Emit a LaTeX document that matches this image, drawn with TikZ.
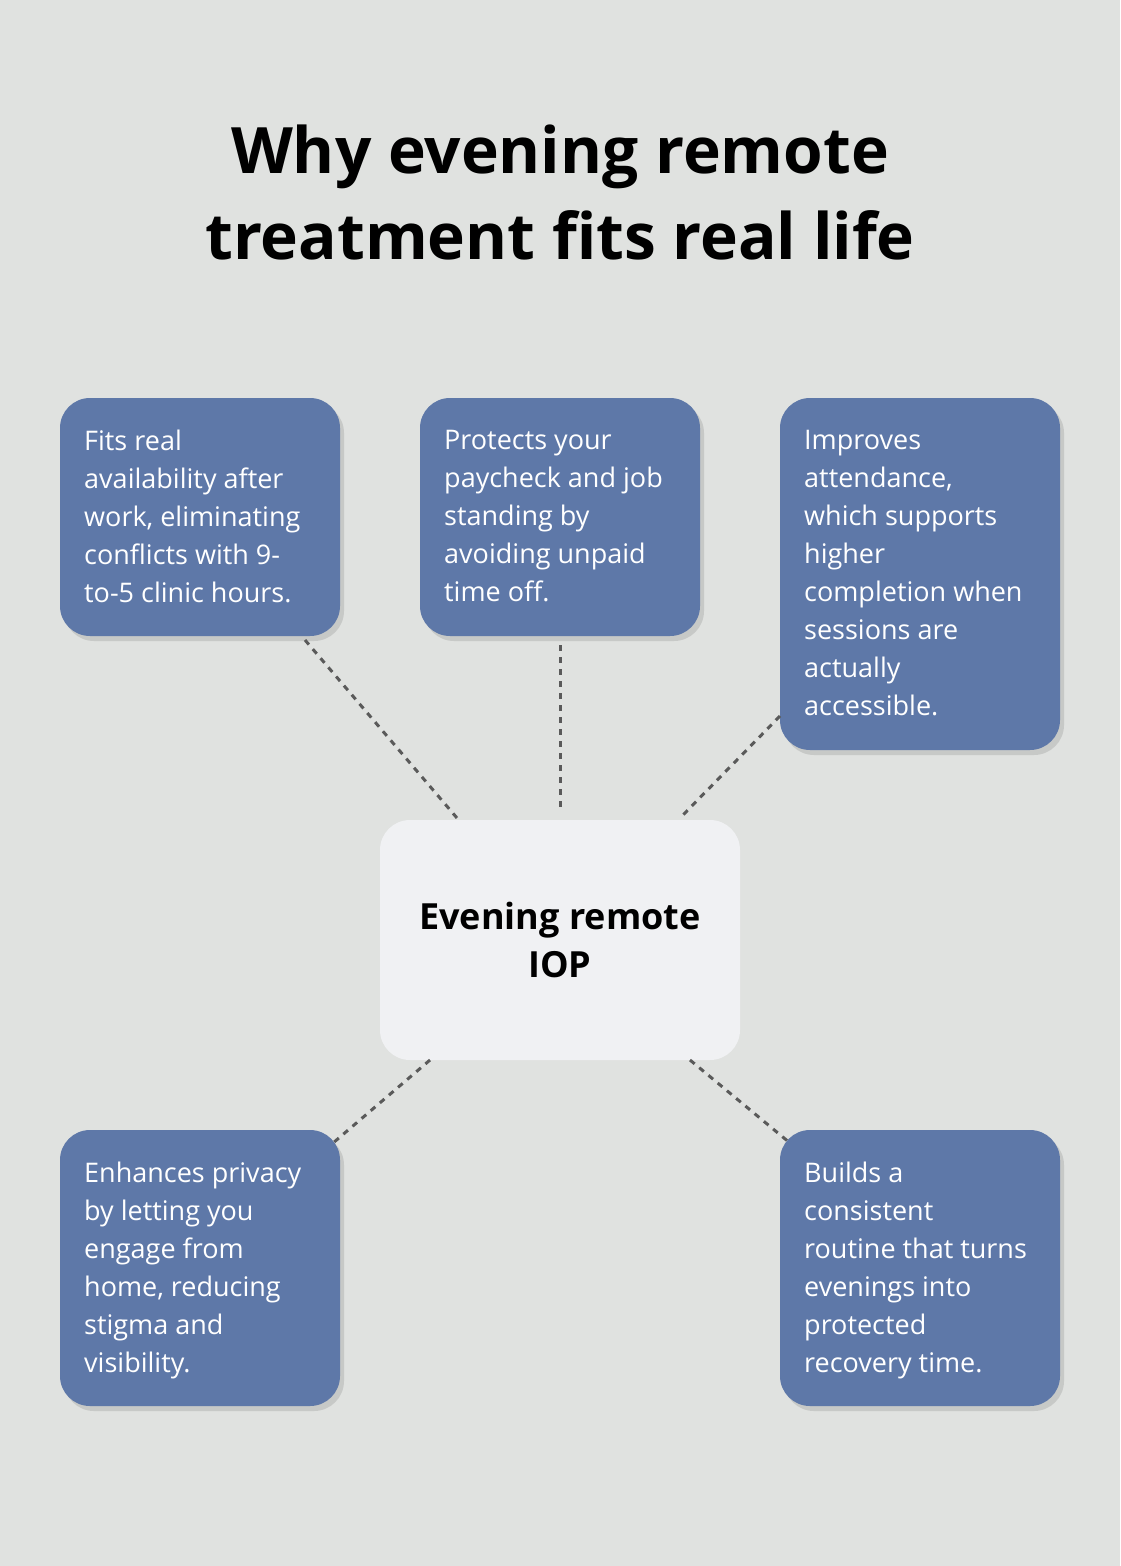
\documentclass[tikz,border=0pt]{standalone}
\usepackage{fontspec}
\setmainfont{Open Sans}
\usetikzlibrary{shadows}
\definecolor{bg}{HTML}{E0E2E0}
\definecolor{boxc}{HTML}{5E78A8}
\definecolor{ctr}{HTML}{F0F1F3}
\definecolor{ln}{HTML}{5A5A5A}
\begin{document}
\begin{tikzpicture}[x=1pt,y=-1pt,
  card/.style={fill=boxc,rounded corners=30pt,draw=none,drop shadow={shadow xshift=4pt,shadow yshift=-5pt,opacity=0.25}},
  ctrbox/.style={fill=ctr,rounded corners=30pt,draw=none},
  txt/.style={anchor=north west,inner sep=0pt,text=white,align=left,font=\fontsize{27}{38}\selectfont},
  conn/.style={draw=ln,line width=3pt,dash pattern=on 6pt off 6pt}]
\useasboundingbox (0,0) rectangle (1120,1566);
\fill[bg] (0,0) rectangle (1120,1566);
\node[font=\fontsize{64}{86}\selectfont\bfseries,align=center] (title) at (560,192) {Why evening remote\\treatment fits real life};
\path[card] (60,398) rectangle (340,636);
\path[card] (420,398) rectangle (700,636);
\path[card] (780,398) rectangle (1060,750);
\path[card] (60,1130) rectangle (340,1406);
\path[card] (780,1130) rectangle (1060,1406);
\path[ctrbox] (380,820) rectangle (740,1060);
\node[txt] (t1) at (84,430) {Fits real\\availability after\\work, eliminating\\conflicts with 9-\\to-5 clinic hours.};
\node[txt] (t2) at (444,430) {Protects your\\paycheck and job\\standing by\\avoiding unpaid\\time off.};
\node[txt] (t3) at (804,430) {Improves\\attendance,\\which supports\\higher\\completion when\\sessions are\\actually\\accessible.};
\node[txt] (t4) at (84,1162) {Enhances privacy\\by letting you\\engage from\\home, reducing\\stigma and\\visibility.};
\node[txt] (t5) at (804,1162) {Builds a\\consistent\\routine that turns\\evenings into\\protected\\recovery time.};
\node[font=\fontsize{36}{48}\selectfont\bfseries,align=center] (c) at (560,940) {Evening remote\\IOP};
\coordinate (a1) at (305,640); \coordinate (b1) at (457,818);
\coordinate (a2) at (560,645); \coordinate (b2) at (560,812);
\coordinate (a3) at (780,716); \coordinate (b3) at (680,818);
\coordinate (a4) at (430,1060); \coordinate (b4) at (333,1143);
\coordinate (a5) at (690,1060); \coordinate (b5) at (790,1143);
\draw[conn] (a1) -- (b1);
\draw[conn] (a2) -- (b2);
\draw[conn] (a3) -- (b3);
\draw[conn] (a4) -- (b4);
\draw[conn] (a5) -- (b5);
\end{tikzpicture}
\end{document}
